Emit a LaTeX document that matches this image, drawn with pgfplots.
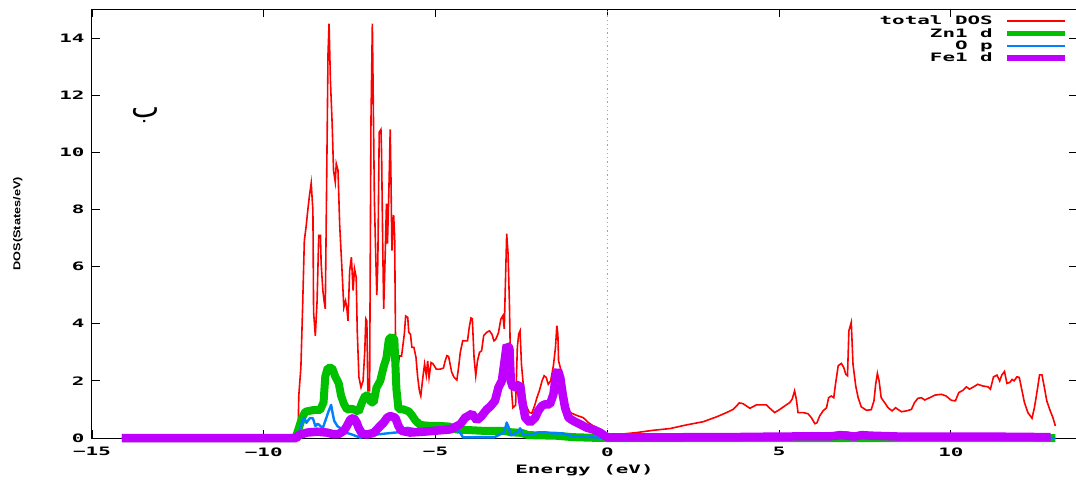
\documentclass[border=0pt]{standalone}
\usepackage{pgfplots}
\pgfplotsset{compat=1.18}
\usepackage{fontspec}
\usepackage{graphicx}
\TeXXeTstate=1
\newfontfamily\gpfont{DejaVu Sans Mono}
\newfontfamily\labfont{Liberation Sans}
\newfontfamily\arabicfont[Script=Arabic]{DejaVu Sans}
\newcommand{\gp}[1]{\scalebox{1.8}[1]{\gpfont\bfseries\fontsize{11.6}{12}\selectfont #1}}

\definecolor{gpred}{HTML}{FF0000}
\definecolor{gpgreen}{HTML}{00C000}
\definecolor{gpblue}{HTML}{0080FF}
\definecolor{gppurple}{HTML}{C000FF}

% total density of states
\pgfplotstableread{
E dos
-14.13 0
-9.05 0
-9.00 0.30
-8.98 1.50
-8.92 2.47
-8.87 4.57
-8.82 6.90
-8.77 7.38
-8.72 7.96
-8.67 8.49
-8.62 8.92
-8.57 7.96
-8.55 4.40
-8.50 3.58
-8.45 4.75
-8.40 7.09
-8.35 7.09
-8.33 6.10
-8.28 5.16
-8.24 4.75
-8.21 4.52
-8.18 7.85
-8.13 13.46
-8.10 14.50
-8.06 12.50
-8.01 11.00
-7.97 9.37
-7.92 8.96
-7.89 9.60
-7.84 9.37
-7.79 7.44
-7.72 5.80
-7.67 4.57
-7.62 4.80
-7.58 4.52
-7.55 4.10
-7.50 5.86
-7.45 6.33
-7.40 5.16
-7.36 5.93
-7.31 5.63
-7.28 3.75
-7.23 2.12
-7.17 1.77
-7.11 2.00
-7.06 3.05
-7.03 4.17
-7.00 4.10
-6.97 1.65
-6.92 1.65
-6.88 11.10
-6.84 14.50
-6.82 12.50
-6.78 8.30
-6.74 6.33
-6.71 5.00
-6.68 6.20
-6.64 10.70
-6.59 10.80
-6.57 9.90
-6.54 6.90
-6.51 4.52
-6.46 6.68
-6.43 8.20
-6.40 6.80
-6.36 8.60
-6.32 10.80
-6.30 9.25
-6.27 6.56
-6.22 7.80
-6.19 7.00
-6.16 2.59
-6.10 2.47
-6.05 2.87
-5.99 2.87
-5.91 3.63
-5.87 4.27
-5.81 4.22
-5.78 3.70
-5.73 3.63
-5.69 3.17
-5.63 3.17
-5.57 2.82
-5.52 2.12
-5.47 1.65
-5.43 1.47
-5.37 2.12
-5.32 2.59
-5.27 2.20
-5.23 2.70
-5.19 2.12
-5.13 2.64
-5.07 2.59
-4.98 2.41
-4.86 2.41
-4.77 2.45
-4.72 2.70
-4.67 2.88
-4.62 2.85
-4.53 2.30
-4.46 2.12
-4.38 2.03
-4.33 2.47
-4.28 3.00
-4.21 3.40
-4.14 3.40
-4.07 3.40
-4.02 3.87
-3.97 4.20
-3.93 4.17
-3.88 2.82
-3.83 2.18
-3.78 2.70
-3.72 3.00
-3.66 3.05
-3.60 3.58
-3.51 3.70
-3.43 3.75
-3.36 3.63
-3.30 3.40
-3.25 3.45
-3.17 3.68
-3.10 4.16
-3.04 4.28
-3.00 3.82
-2.97 5.27
-2.93 7.15
-2.89 6.45
-2.85 4.70
-2.81 2.00
-2.75 1.06
-2.67 1.15
-2.62 3.17
-2.58 3.64
-2.54 3.75
-2.50 2.58
-2.44 1.77
-2.36 1.12
-2.27 0.89
-2.20 0.87
-2.12 1.12
-2.05 1.41
-1.98 1.65
-1.90 2.00
-1.84 2.18
-1.78 2.12
-1.72 1.88
-1.65 2.00
-1.57 2.53
-1.51 3.17
-1.47 3.93
-1.44 3.64
-1.42 2.70
-1.37 2.47
-1.33 1.77
-1.28 1.36
-1.18 1.00
-1.08 0.89
-0.89 0.79
-0.70 0.71
-0.55 0.54
-0.41 0.42
-0.26 0.30
-0.12 0.13
-0.02 0.05
0.00 0.07
0.37 0.13
0.85 0.19
1.34 0.27
1.82 0.33
2.31 0.46
2.79 0.57
3.18 0.74
3.47 0.89
3.66 1.00
3.76 1.12
3.84 1.23
3.95 1.20
4.15 1.04
4.34 1.16
4.63 1.16
4.73 1.04
4.87 0.89
5.02 1.00
5.16 1.12
5.31 1.24
5.38 1.36
5.45 1.65
5.50 1.36
5.55 0.89
5.70 0.89
5.84 0.85
5.94 0.71
6.04 0.50
6.10 0.53
6.18 0.77
6.28 0.95
6.38 1.06
6.44 1.41
6.52 1.47
6.59 1.41
6.64 1.88
6.72 2.53
6.81 2.61
6.88 2.47
6.94 2.23
6.99 2.18
7.03 3.75
7.10 4.05
7.15 2.58
7.23 1.82
7.30 1.41
7.39 1.09
7.54 0.97
7.68 0.99
7.76 1.30
7.81 1.88
7.86 2.26
7.91 2.00
7.97 1.41
8.07 1.24
8.17 1.06
8.29 0.95
8.39 1.06
8.46 1.00
8.56 0.92
8.71 0.95
8.85 1.00
8.94 1.24
9.04 1.39
9.14 1.41
9.24 1.33
9.38 1.41
9.53 1.50
9.72 1.53
9.86 1.47
10.01 1.32
10.13 1.30
10.23 1.59
10.35 1.67
10.45 1.79
10.54 1.71
10.66 1.79
10.78 1.88
10.93 1.82
11.08 1.79
11.15 1.71
11.24 2.14
11.34 2.20
11.42 2.00
11.48 2.20
11.56 2.33
11.63 1.91
11.72 1.95
11.78 2.05
11.84 2.00
11.92 2.14
11.99 2.12
12.07 1.65
12.14 1.24
12.24 0.89
12.36 0.69
12.43 1.06
12.51 1.65
12.58 2.21
12.65 2.21
12.72 1.77
12.79 1.30
12.89 0.95
12.97 0.71
13.04 0.42
}\totaldos

% Zn1 d projected states
\pgfplotstableread{
E dos
-14.13 0
-9.10 0
-9.04 0.13
-8.88 0.72
-8.79 0.92
-8.55 0.98
-8.36 0.98
-8.26 1.25
-8.21 2.15
-8.14 2.45
-8.01 2.45
-7.92 2.15
-7.82 1.92
-7.75 1.48
-7.67 1.20
-7.58 1.00
-7.43 1.02
-7.34 0.98
-7.24 0.92
-7.14 1.25
-7.05 1.48
-6.95 1.48
-6.88 1.25
-6.80 1.25
-6.72 1.76
-6.61 2.00
-6.51 2.50
-6.43 2.80
-6.36 3.45
-6.27 3.55
-6.20 3.45
-6.14 1.72
-6.08 1.02
-5.93 1.00
-5.78 0.93
-5.69 0.80
-5.59 0.62
-5.45 0.46
-5.25 0.43
-4.86 0.42
-4.60 0.40
-4.40 0.30
-3.60 0.25
-3.00 0.25
-2.80 0.20
-2.50 0.18
-2.30 0.10
-1.50 0.08
-1.00 0.03
-0.50 0.01
0.00 0
13.04 0
}\zndos

% O p projected states
\pgfplotstableread{
E dos
-14.13 0
-9.05 0
-8.98 0.13
-8.88 0.60
-8.82 0.71
-8.76 0.53
-8.66 0.69
-8.57 0.69
-8.50 0.42
-8.43 0.50
-8.35 0.42
-8.28 0.35
-8.21 0.60
-8.11 0.95
-8.04 1.16
-7.99 0.83
-7.95 0.60
-7.86 0.42
-7.72 0.30
-7.62 0.19
-7.45 0.13
-7.19 0.01
-6.90 0.10
-6.50 0.15
-6.10 0.20
-5.83 0.36
-5.56 0.30
-5.00 0.30
-4.60 0.30
-4.30 0.22
-4.20 0.02
-3.30 0.02
-3.00 0.20
-2.93 0.54
-2.88 0.40
-2.81 0.10
-2.60 0.20
-2.54 0.34
-2.45 0.12
-2.20 0.12
-2.00 0.20
-1.80 0.20
-1.60 0.16
-1.30 0.16
-1.00 0.06
-0.50 0.03
0.00 0
6.40 0
6.60 0.15
6.75 0.21
6.85 0.15
6.95 0.20
7.05 0.18
7.20 0.03
13.04 0
}\opdos

% Fe1 d projected states
\pgfplotstableread{
E dos
-14.13 0
-9.05 0
-8.98 0.10
-8.74 0.19
-8.45 0.22
-8.16 0.19
-7.97 0.13
-7.82 0.14
-7.67 0.25
-7.58 0.42
-7.48 0.65
-7.38 0.70
-7.30 0.55
-7.24 0.36
-7.14 0.15
-7.00 0.12
-6.80 0.18
-6.66 0.36
-6.51 0.54
-6.41 0.71
-6.32 0.77
-6.17 0.71
-6.08 0.42
-5.99 0.25
-5.74 0.19
-5.35 0.22
-4.96 0.26
-4.57 0.30
-4.28 0.48
-4.14 0.71
-3.94 0.85
-3.80 0.62
-3.66 0.77
-3.51 1.00
-3.41 1.10
-3.27 1.30
-3.17 1.77
-3.07 2.00
-2.99 2.70
-2.93 3.25
-2.85 3.15
-2.81 2.00
-2.75 1.77
-2.62 1.82
-2.54 1.88
-2.48 1.30
-2.39 0.71
-2.25 0.54
-2.10 0.71
-2.01 0.95
-1.91 1.12
-1.81 1.18
-1.67 1.18
-1.57 1.53
-1.49 2.23
-1.44 2.38
-1.37 2.11
-1.30 1.53
-1.23 1.06
-1.13 0.71
-0.99 0.60
-0.79 0.48
-0.60 0.36
-0.41 0.30
-0.21 0.19
-0.07 0.07
0.02 0.02
3.50 0.03
5.00 0.05
6.50 0.06
6.80 0.10
7.20 0.05
7.40 0.10
7.70 0.08
8.50 0.05
11.00 0.05
12.90 0.03
}\fedos

\begin{document}
\begin{tikzpicture}
\path[use as bounding box] (-92pt,-44pt) rectangle (984pt,438pt);
\begin{axis}[
  at={(0pt,0pt)}, anchor=south west,
  scale only axis,
  width=985pt, height=428.6pt,
  xmin=-15, xmax=13.67,
  ymin=0, ymax=15,
  clip=false,
  axis line style={black, line width=1pt},
  tick style={black, line width=0.9pt},
  major tick length=8pt,
  xtick={-15,-10,-5,0,5,10},
  xticklabels={\gp{−15},\gp{−10},\gp{−5},\gp{0},\gp{5},\gp{10}},
  ytick={0,2,4,6,8,10,12,14},
  yticklabels={\gp{0},\gp{2},\gp{4},\gp{6},\gp{8},\gp{10},\gp{12},\gp{14}},
  xticklabel style={yshift=-6pt},
  yticklabel style={xshift=-4pt},
  xlabel={\gp{Energy (eV)}},
  xlabel style={yshift=-2pt},
  ylabel={\scalebox{1.27}[1]{\labfont\bfseries\fontsize{10}{10}\selectfont DOS(States/eV)}},
  ylabel style={yshift=30pt},
  legend cell align=right,
  legend plot pos=right,
  legend image code/.code={\draw[#1] (0pt,0pt) -- (58pt,0pt);},
  legend style={at={(1,1)}, anchor=north east, xshift=-6pt, yshift=-3pt,
    draw=none, fill=none, row sep=-1pt, column sep=10pt,
    nodes={inner sep=1.5pt}},
]
\addplot[gray!70, line width=1.2pt, dash pattern=on 1.3pt off 3pt, forget plot]
  coordinates {(0,0) (0,15)};
\addplot[gpred, line width=1.6pt, forget plot] table[x=E, y=dos] {\totaldos};
\addplot[gpgreen, line width=8pt, line join=bevel, forget plot] table[x=E, y=dos] {\zndos};
\addplot[gpblue, line width=2.4pt, line join=round, forget plot] table[x=E, y=dos] {\opdos};
\addplot[gppurple, line width=8.5pt, line join=bevel, forget plot] table[x=E, y=dos] {\fedos};
% legend samples, a little thinner than the plotted curves
\addlegendimage{color=gpred, line width=2pt}
\addlegendentry{\gp{total DOS}}
\addlegendimage{color=gpgreen, line width=5pt}
\addlegendentry{\gp{Zn1 d}}
\addlegendimage{color=gpblue, line width=2.2pt}
\addlegendentry{\gp{O p}}
\addlegendimage{color=gppurple, line width=5.5pt}
\addlegendentry{\gp{Fe1 d}}
\node[font=\arabicfont\fontsize{30}{30}\selectfont] at (axis cs:-13.45,11.3) {\beginR ب\endR};
\end{axis}
\end{tikzpicture}
\end{document}
